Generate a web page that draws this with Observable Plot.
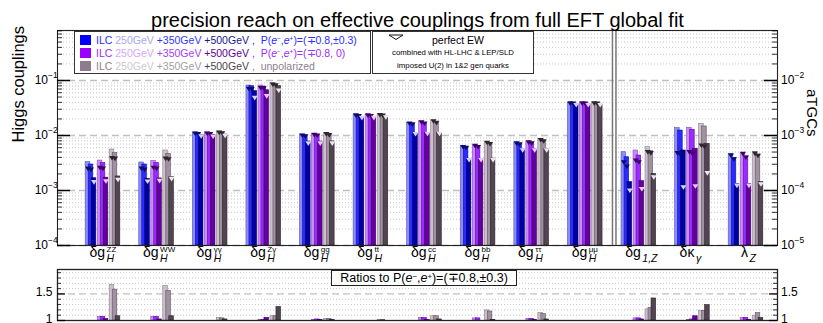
<!DOCTYPE html>
<html>
<head>
<meta charset="utf-8">
<script src="https://cdn.jsdelivr.net/npm/d3@7"></script>
<script src="https://cdn.jsdelivr.net/npm/@observablehq/plot@0.6"></script>
<style>
html,body{margin:0;padding:0;background:#fff;}
#wrap{position:relative;width:823px;height:323px;overflow:hidden;font-family:"Liberation Sans",Arial,Helvetica,sans-serif;}
#wrap svg.p{position:absolute;left:0;}
.box{position:absolute;background:#fff;border:1px solid #333;box-sizing:border-box;}
.t{position:absolute;white-space:pre;line-height:1;}
.sq{position:absolute;width:11px;height:10px;}
.sp{font-size:0.62em;vertical-align:0.45em;line-height:0;}
</style>
</head>
<body>
<div id="wrap"></div>
<script>
// ---------------- data ----------------
const groups    = ["ZZ","WW","γγ","Zγ","gg","tt","cc","bb","ττ","μμ","g1Z","κγ","λZ"];
const labelBase = ["δg","δg","δg","δg","δg","δg","δg","δg","δg","δg","δg","δκ","λ"];
const labelSub  = ["H","H","H","H","H","H","H","H","H","H","1,Z","γ","Z"];
const labelSup  = ["ZZ","WW","γγ","Zγ","gg","tt","cc","bb","ττ","μμ","","",""];
const panelOf   = ["Higgs","Higgs","Higgs","Higgs","Higgs","Higgs","Higgs","Higgs","Higgs","Higgs","aTGC","aTGC","aTGC"];

// P(e-,e+)=(∓0.8,±0.3)
const pol03_250 = [3.27e-3,3.23e-3,1.135e-2,8.11e-2,1.04e-2,2.38e-2,1.70e-2,6.39e-3,7.46e-3,3.93e-2,4.97e-4,1.36e-3,4.65e-4];
const pol03_350 = [2.97e-3,2.97e-3,1.10e-2,7.88e-2,1.00e-2,2.31e-2,1.63e-2,6.13e-3,7.06e-3,3.87e-2,4.03e-4,1.23e-3,3.87e-4];
const pol03_500 = [1.67e-3,1.63e-3,1.03e-2,6.39e-2,7.78e-3,2.15e-2,1.10e-2,3.77e-3,5.56e-3,3.71e-2,1.42e-4,5.34e-4,1.32e-4];
// P(e-,e+)=(∓0.8,0)
const pol0_250  = [3.50e-3,3.46e-3,1.135e-2,8.11e-2,1.07e-2,2.38e-2,1.80e-2,6.65e-3,7.78e-3,3.93e-2,5.34e-4,1.38e-3,4.84e-4];
const pol0_350  = [3.18e-3,3.18e-3,1.10e-2,7.78e-2,1.03e-2,2.31e-2,1.70e-2,6.38e-3,7.46e-3,3.87e-2,4.33e-4,1.27e-3,4.15e-4];
const pol0_500  = [1.71e-3,1.66e-3,1.03e-2,6.65e-2,7.78e-3,2.15e-2,1.12e-2,3.77e-3,5.60e-3,3.71e-2,1.48e-4,5.73e-4,1.32e-4];
// unpolarized
const unpol_250 = [5.56e-3,5.34e-3,1.18e-2,8.93e-2,1.10e-2,2.41e-2,1.87e-2,7.60e-3,8.57e-3,3.95e-2,6.13e-4,1.63e-3,4.97e-4];
const unpol_350 = [4.77e-3,4.65e-3,1.135e-2,8.46e-2,1.04e-2,2.34e-2,1.74e-2,7.17e-3,8.11e-3,3.90e-2,5.19e-4,1.46e-3,4.52e-4];
const unpol_500 = [1.80e-3,1.76e-3,1.04e-2,7.88e-2,7.80e-3,2.21e-2,1.12e-2,3.80e-3,5.65e-3,3.72e-2,2.01e-4,7.06e-4,1.42e-4];

// perfect EW (triangles)
const ew_pol03_250 = [2.50e-3,2.50e-3,1.09e-2,7.10e-2,1.00e-2,2.33e-2,1.66e-2,6.20e-3,7.20e-3,3.85e-2,3.27e-4,4.80e-4,4.33e-4];
const ew_pol03_350 = [2.40e-3,2.40e-3,1.07e-2,7.00e-2,9.70e-3,2.27e-2,1.60e-2,6.00e-3,6.90e-3,3.80e-2,2.73e-4,4.50e-4,3.70e-4];
const ew_pol03_500 = [1.42e-3,1.46e-3,9.70e-3,4.85e-2,7.20e-3,2.10e-2,1.07e-2,3.60e-3,5.40e-3,3.60e-2,1.00e-4,1.15e-4,1.23e-4];
const ew_pol0_250  = [2.60e-3,2.60e-3,1.09e-2,7.30e-2,1.03e-2,2.33e-2,1.75e-2,6.50e-3,7.50e-3,3.85e-2,3.51e-4,5.00e-4,4.65e-4];
const ew_pol0_350  = [2.50e-3,2.50e-3,1.07e-2,7.20e-2,1.00e-2,2.27e-2,1.66e-2,6.20e-3,7.20e-3,3.80e-2,3.27e-4,4.70e-4,4.00e-4];
const ew_pol0_500  = [1.48e-3,1.50e-3,9.60e-3,5.20e-2,7.20e-3,2.10e-2,1.08e-2,3.60e-3,5.40e-3,3.60e-2,1.07e-4,1.20e-4,1.23e-4];
const ew_unpol_250 = [3.90e-3,3.80e-3,1.13e-2,8.50e-2,1.06e-2,2.36e-2,1.82e-2,7.40e-3,8.30e-3,3.85e-2,5.00e-4,6.60e-4,4.70e-4];
const ew_unpol_350 = [3.80e-3,3.70e-3,1.10e-2,8.20e-2,1.02e-2,2.30e-2,1.70e-2,7.00e-3,7.90e-3,3.80e-2,4.80e-4,6.30e-4,4.30e-4];
const ew_unpol_500 = [1.57e-3,1.63e-3,9.90e-3,6.60e-2,7.20e-3,2.15e-2,1.08e-2,3.60e-3,5.40e-3,3.60e-2,1.75e-4,2.07e-4,1.30e-4];

// ratios to P(e-,e+)=(∓0.8,±0.3)
const ratio_pol0_250  = [1.07,1.07,1.00,1.01,1.01,1.00,1.05,1.04,1.03,1.00,1.04,1.01,1.05];
const ratio_pol0_350  = [1.07,1.07,1.00,1.01,1.02,1.00,1.05,1.04,1.03,1.00,1.04,1.02,1.05];
const ratio_pol0_500  = [1.025,1.02,1.00,1.05,1.01,1.00,1.01,1.00,1.01,1.00,1.02,1.08,1.01];
const ratio_unpol_250 = [1.67,1.65,1.05,1.08,1.03,1.01,1.08,1.19,1.145,1.00,1.21,1.18,1.09];
const ratio_unpol_350 = [1.58,1.56,1.04,1.08,1.03,1.01,1.08,1.17,1.12,1.00,1.24,1.18,1.14];
const ratio_unpol_500 = [1.08,1.08,1.02,1.255,1.01,1.00,1.02,1.01,1.02,1.00,1.415,1.29,1.05];

const leftTicks  = [1e-1,1e-2,1e-3,1e-4];
const rightTicks = [1e-2,1e-3,1e-4,1e-5];
const ratioTicks = [1,1.5];

// ---------------- styling / layout ----------------
const palette = [
  {fill:["#8d8df3","#2b2bff","#0000a3"], stroke:["#5050c8","#1010a8","#00005c"], triDark:"#0b0b70", triLight:"#d2d2ff"},
  {fill:["#c98cf7","#9b2cff","#63009f"], stroke:["#8a48c4","#5f0aa8","#38005c"], triDark:"#3c0068", triLight:"#ecc8ff"},
  {fill:["#cdc0cd","#9f919f","#514551"], stroke:["#8c808c","#615561","#2a222a"], triDark:"#2e262e", triLight:"#eee6ee"}
];
const series = [
  {vals:[pol03_250,pol03_350,pol03_500], ew:[ew_pol03_250,ew_pol03_350,ew_pol03_500], ratio:null},
  {vals:[pol0_250,pol0_350,pol0_500],    ew:[ew_pol0_250,ew_pol0_350,ew_pol0_500],    ratio:[ratio_pol0_250,ratio_pol0_350,ratio_pol0_500]},
  {vals:[unpol_250,unpol_350,unpol_500], ew:[ew_unpol_250,ew_unpol_350,ew_unpol_500], ratio:[ratio_unpol_250,ratio_unpol_350,ratio_unpol_500]}
];

const W = 823, L = 57, R = 777;
const P = 53.583, C0 = 102.5;               // px per group, first group centre
const xdom = [(L - C0) / P, (R - C0) / P];
const ymin = 1e-4, ymax = Math.pow(10, -1 + 50 / 55);
const scaleFor = i => panelOf[i] === "aTGC" ? 10 : 1;
const off = (s, e) => (s * 12 + e * 3 - 15) / P;
const hw = 2.3 / P;

const bars = [], tris = [], rbars = [];
for (let e = 0; e < 3; e++) for (let s = 0; s < 3; s++) groups.forEach((g, i) => {
  const xc = i + off(s, e), pal = palette[s];
  bars.push({x1: xc - hw, x2: xc + hw, v: series[s].vals[e][i] * scaleFor(i), fill: pal.fill[e], stroke: pal.stroke[e]});
  tris.push({x: xc, v: series[s].ew[e][i] * scaleFor(i), fill: e < 2 ? pal.triDark : pal.triLight});
  if (series[s].ratio) rbars.push({x1: xc - hw, x2: xc + hw, v: series[s].ratio[e][i], fill: pal.fill[e], stroke: pal.stroke[e]});
});
const labels = groups.map((g, i) => ({i, base: labelBase[i], sub: labelSub[i], sup: labelSup[i]}));
const sepIndex = panelOf.indexOf("aTGC") - 0.45;     // divider between the two panels
const dividers = [-1.75, 1.75].map(o => ({x1: sepIndex + (o - 0.75) / P, x2: sepIndex + (o + 0.75) / P}));

const minors = [];
for (let d = -4; d <= -1; d++) for (let k = 2; k <= 9; k++) { const v = k * Math.pow(10, d); if (v < ymax) minors.push(v); }
const rMinors = d3.range(1, 10).map(k => 1 + k / 10).filter(v => Math.abs(v - 1.5) > 1e-6 && v < 1.96);

const downTri = {draw(ctx) { ctx.moveTo(-3, -2); ctx.lineTo(3, -2); ctx.lineTo(0, 2.6); ctx.closePath(); }};
const sup = n => "−" + n;
const font = "Liberation Sans, Arial, Helvetica, sans-serif";

const main = Plot.plot({
  width: W, height: 268, marginLeft: L, marginRight: W - R, marginTop: 30, marginBottom: 23,
  x: {type: "linear", domain: xdom, axis: null},
  y: {type: "log", domain: [ymin, ymax], axis: null},
  color: {type: "identity"},
  style: {fontFamily: font, background: "transparent", overflow: "visible", color: "#000"},
  marks: [
    Plot.gridY(minors, {stroke: "#c6c6c6", strokeOpacity: 1, strokeDasharray: "1,2"}),
    Plot.gridY(leftTicks, {stroke: "#c0c0c0", strokeOpacity: 1, strokeDasharray: "7,4", strokeWidth: 1.3}),
    Plot.rect(bars, {x1: "x1", x2: "x2", y1: ymin, y2: "v", fill: "fill", stroke: "stroke", strokeWidth: 0.6}),
    Plot.dot(tris, {x: "x", y: "v", symbol: downTri, fill: "fill", stroke: "none"}),
    Plot.rect(dividers, {x1: "x1", x2: "x2", y1: ymin, y2: ymax, fill: "#777"}),
    Plot.frame({stroke: "#222", strokeWidth: 1.1}),
    // inward ticks, left and right
    Plot.ruleY(leftTicks, {y: d => d, x1: xdom[0], x2: xdom[0] + 13 / P, stroke: "#000", strokeWidth: 1.5}),
    Plot.ruleY(minors, {y: d => d, x1: xdom[0], x2: xdom[0] + 5 / P, stroke: "#000", strokeWidth: 0.8}),
    Plot.ruleY(leftTicks, {y: d => d, x1: xdom[1] - 13 / P, x2: xdom[1], stroke: "#000", strokeWidth: 1.5}),
    Plot.ruleY(minors, {y: d => d, x1: xdom[1] - 5 / P, x2: xdom[1], stroke: "#000", strokeWidth: 0.8}),
    // left tick labels 10^-n
    Plot.text(leftTicks, {y: d => d, text: () => "10", frameAnchor: "left", textAnchor: "end", dx: -9.5, fontSize: 12}),
    Plot.text(leftTicks, {y: d => d, text: d => sup(Math.round(-Math.log10(d))), frameAnchor: "left", textAnchor: "start", dx: -9.5, dy: -5, fontSize: 8.5}),
    // right tick labels (aTGC scale = left / 10)
    Plot.text(rightTicks, {y: d => d * 10, text: () => "10", frameAnchor: "right", textAnchor: "start", dx: 3.5, fontSize: 12}),
    Plot.text(rightTicks, {y: d => d * 10, text: d => sup(Math.round(-Math.log10(d))), frameAnchor: "right", textAnchor: "start", dx: 17, dy: -5, fontSize: 8.5}),
    // axis titles
    Plot.text(["Higgs couplings"], {frameAnchor: "left", dx: -39, dy: 4.5, rotate: -90, fontSize: 16.5}),
    Plot.text(["aTGCs"], {frameAnchor: "right", dx: 34, dy: -1.5, rotate: 90, fontSize: 15}),
    // title
    Plot.text(["precision reach on effective couplings from full EFT global fit"], {frameAnchor: "top", dy: -18, fontSize: 20}),
    // category labels
    Plot.text(labels, {x: "i", text: "base", frameAnchor: "bottom", textAnchor: "end", dx: 2, dy: 11, fontSize: 14}),
    Plot.text(labels, {x: "i", text: "sub", frameAnchor: "bottom", textAnchor: "start", dx: 3.5, dy: 16.5, fontSize: 10.5, fontStyle: "italic"}),
    Plot.text(labels, {x: "i", text: "sup", frameAnchor: "bottom", textAnchor: "start", dx: 3.5, dy: 6, fontSize: 8})
  ]
});
main.classList.add("p");
main.style.top = "0px";

const ratio = Plot.plot({
  width: W, height: 55, marginLeft: L, marginRight: W - R, marginTop: 1, marginBottom: 3,
  x: {type: "linear", domain: xdom, axis: null},
  y: {domain: [1, 1.96], axis: null},
  color: {type: "identity"},
  style: {fontFamily: font, background: "transparent", overflow: "visible", color: "#000"},
  marks: [
    Plot.gridY(rMinors, {stroke: "#c6c6c6", strokeOpacity: 1, strokeDasharray: "1,2"}),
    Plot.gridY([1.5], {stroke: "#c0c0c0", strokeOpacity: 1, strokeDasharray: "7,4", strokeWidth: 1.3}),
    Plot.rect(rbars, {x1: "x1", x2: "x2", y1: 1, y2: "v", fill: "fill", stroke: "stroke", strokeWidth: 0.6}),
    Plot.frame({stroke: "#222", strokeWidth: 1.3}),
    Plot.ruleY(ratioTicks, {y: d => d, x1: xdom[0], x2: xdom[0] + 8 / P, stroke: "#000", strokeWidth: 1.3}),
    Plot.ruleY(rMinors, {y: d => d, x1: xdom[0], x2: xdom[0] + 4 / P, stroke: "#000", strokeWidth: 0.8}),
    Plot.ruleY(ratioTicks, {y: d => d, x1: xdom[1] - 8 / P, x2: xdom[1], stroke: "#000", strokeWidth: 1.3}),
    Plot.ruleY(rMinors, {y: d => d, x1: xdom[1] - 4 / P, x2: xdom[1], stroke: "#000", strokeWidth: 0.8}),
    Plot.text(ratioTicks, {y: d => d, text: d => String(d), frameAnchor: "left", textAnchor: "end", dx: -5, dy: -1.5, fontSize: 12}),
    Plot.text(ratioTicks, {y: d => d, text: d => String(d), frameAnchor: "right", textAnchor: "start", dx: 3.5, dy: -1.5, fontSize: 12})
  ]
});
ratio.classList.add("p");
ratio.style.top = "268px";

const wrap = document.getElementById("wrap");
wrap.appendChild(main);
wrap.appendChild(ratio);

// ---------------- legends (HTML overlay) ----------------
const legendRows = [
  {sq: "#0000ff", cols: ["#2b2bff", "#a6a6f6", "#3434ff", "#17178f", "#2b2bff"], tail: 'P(<i>e</i><span class="sp">−</span>,<i>e</i><span class="sp">+</span>)=(∓0.8,±0.3)'},
  {sq: "#9a00ff", cols: ["#9b2cff", "#d4a8ff", "#a040ff", "#5d0096", "#9b2cff"], tail: 'P(<i>e</i><span class="sp">−</span>,<i>e</i><span class="sp">+</span>)=(∓0.8, 0)'},
  {sq: "#8e7c8e", cols: ["#8e7e8e", "#d2c6d2", "#a99ba9", "#4c404c", "#8e7e8e"], tail: 'unpolarized'}
];
let html = '<div class="box" style="left:74px;top:31px;width:297px;height:43px"></div>';
legendRows.forEach((r, k) => {
  const cy = 40 + k * 12.9;
  html += `<div class="sq" style="left:80px;top:${cy - 5}px;background:${r.sq}"></div>`;
  html += `<div class="t" style="left:96px;top:${cy - 5.2}px;font-size:10.5px"><span style="color:${r.cols[0]}">ILC</span> <span style="color:${r.cols[1]}">250GeV</span> <span style="color:${r.cols[2]}">+350GeV</span> <span style="color:${r.cols[3]}">+500GeV</span> <span style="color:${r.cols[4]}">,  ${r.tail}</span></div>`;
});
html += '<div class="box" style="left:372px;top:31px;width:162px;height:43px"></div>';
html += '<svg style="position:absolute;left:388px;top:34px" width="17" height="7"><polygon points="1,1 15,1 8,5.5" fill="none" stroke="#111" stroke-width="1"/></svg>';
html += '<div class="t" style="left:372px;width:172px;text-align:center;top:35px;font-size:10.5px">perfect EW</div>';
html += '<div class="t" style="left:372px;width:162px;text-align:center;top:49px;font-size:7.8px">combined with HL-LHC &amp; LEP/SLD</div>';
html += '<div class="t" style="left:372px;width:162px;text-align:center;top:62px;font-size:7.8px">imposed U(2) in 1&amp;2 gen quarks</div>';
html += '<div class="box" style="left:331px;top:270px;width:186px;height:16px;border-color:#222"></div>';
html += '<div class="t" style="left:331px;width:186px;text-align:center;top:272px;font-size:12.5px">Ratios to P(<i>e</i><span class="sp">−</span>,<i>e</i><span class="sp">+</span>)=(∓0.8,±0.3)</div>';
const ov = document.createElement("div");
ov.innerHTML = html;
while (ov.firstChild) wrap.appendChild(ov.firstChild);
</script>
</body>
</html>
